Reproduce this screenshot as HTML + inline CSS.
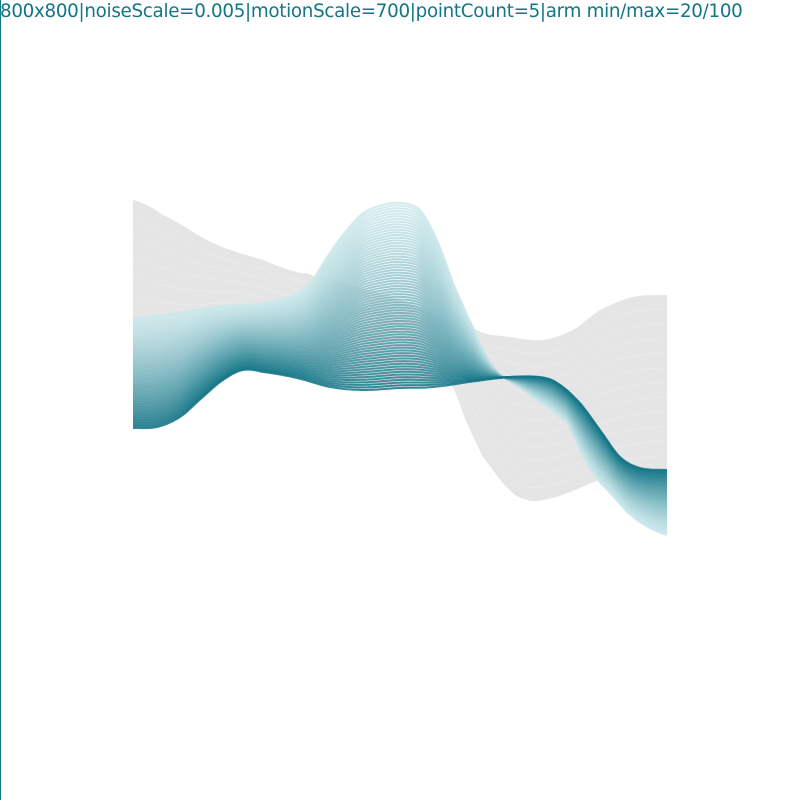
<!DOCTYPE html>
<html><head><meta charset="utf-8"><style>
html,body{margin:0;padding:0;background:#fff}
#wrap{position:relative;width:800px;height:800px;overflow:hidden}
#title{position:absolute;left:0;top:1px;font-family:"DejaVu Sans","Liberation Sans",sans-serif;font-size:18.3px;color:#127684;letter-spacing:-0.3px;white-space:nowrap}
#border{position:absolute;left:0;top:0;width:1px;height:800px;background:#127684}
svg{position:absolute;left:0;top:0}
</style></head><body>
<div id="wrap">
<div id="border"></div>
<div id="title">800x800|noiseScale=0.005|motionScale=700|pointCount=5|arm min/max=20/100</div>
<svg id="art" width="800" height="800"></svg>
</div>
<script>
const grayX = [133,163,213,263,297,313,400,477,510,543,573,600,633,667];
const grayTop = [200,215,243,260,272,276,300,330,337,340,330,310,297,295];
const grayBotX = [133,157,180,203,223,243,263,297,330,363,397,433,450,467,483,510,527,543,567,600,633,667];
const grayBot = [428,427,417,397,380,370,372,378,387,390,389,387,383,423,457,490,500,500,493,480,474,470];
const lightX = [133,180,213,263,290,310,330,347,363,383,400,420,437,453,473,487,500,530,567,587,600,633,667];
const lightY = [318,313,307,303,297,283,253,230,213,205,203,210,240,283,327,357,375,395,423,463,483,517,535];
const darkX = [133,157,180,203,223,243,263,297,330,363,400,433,477,510,540,557,580,600,620,640,667];
const darkY = [428,427,417,397,380,370,372,378,387,390,388,387,381,377,377,383,403,430,457,468,470];
const lineCount = 70;

const NS="http://www.w3.org/2000/svg";
const svg=document.getElementById('art');
function interp(xs,ys,x){
  let i=0; while(i<xs.length-2 && x>xs[i+1]) i++;
  const p0=ys[Math.max(i-1,0)],p1=ys[i],p2=ys[i+1],p3=ys[Math.min(i+2,ys.length-1)];
  const t=(x-xs[i])/(xs[i+1]-xs[i]);
  const t2=t*t,t3=t2*t;
  return 0.5*((2*p1)+(-p0+p2)*t+(2*p0-5*p1+4*p2-p3)*t2+(-p0+3*p1-3*p2+p3)*t3);
}
const x0=133,x1=667;
function pathFor(fn){
  let d='';
  for(let x=x0;x<=x1;x+=2){d+=(x===x0?'M':'L')+x+','+fn(x).toFixed(1);}
  return d;
}
let gd='';
for(let x=x0;x<=x1;x+=2){gd+=(x===x0?'M':'L')+x+','+interp(grayX,grayTop,x).toFixed(1);}
for(let x=x1;x>=x0;x-=2){gd+='L'+x+','+interp(grayBotX,grayBot,x).toFixed(1);}
const g=document.createElementNS(NS,'path');
g.setAttribute('d',gd+'Z');g.setAttribute('fill','#e5e5e5');


svg.appendChild(g);
for(let k=1;k<12;k++){
  const t=k/12;
  const p=document.createElementNS(NS,'path');
  p.setAttribute('d',pathFor(x=>interp(grayX,grayTop,x)*(1-t)+interp(grayBotX,grayBot,x)*t));
  p.setAttribute('fill','none');p.setAttribute('stroke','#fff');p.setAttribute('stroke-width','0.5');p.setAttribute('opacity','0.35');
  
  
  svg.appendChild(p);
}
const c0=[204,232,235], c1=[20,118,135];
for(let k=0;k<lineCount;k++){
  const t=k/(lineCount-1);
  const col=c0.map((v,j)=>Math.round(v+(c1[j]-v)*Math.pow(t,1.3)));
  const p=document.createElementNS(NS,'path');
  p.setAttribute('d',pathFor(x=>interp(lightX,lightY,x)*(1-t)+interp(darkX,darkY,x)*t));
  p.setAttribute('fill','none');
  p.setAttribute('stroke','rgb('+col.join(',')+')');
  p.setAttribute('stroke-width','2');
  p.setAttribute('opacity','0.85');
  
  
  svg.appendChild(p);
}
</script>
</body></html>
